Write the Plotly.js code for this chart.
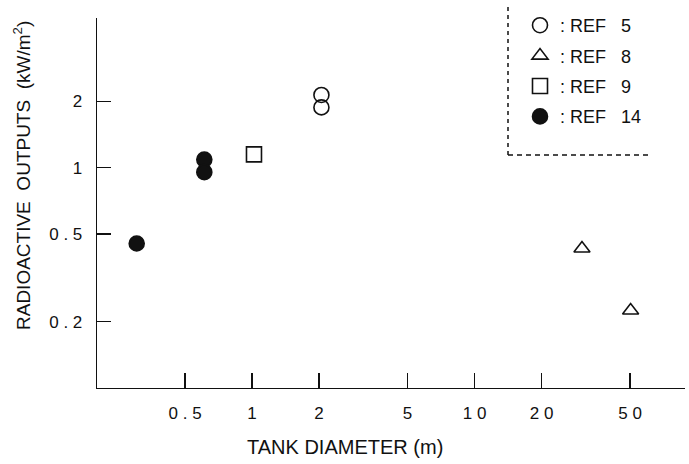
<!DOCTYPE html>
<html><head><meta charset="utf-8">
<script src="https://cdn.plot.ly/plotly-3.0.1.min.js"></script>
<style>html,body{margin:0;padding:0;background:#fff}</style>
</head><body><div id="chart" style="width:689px;height:464px"></div>
<script>
// Data (log-log)
const ref5X = [2.05, 2.05];
const ref5Y = [2.14, 1.88];
const ref8X = [30.4, 50.3];
const ref8Y = [0.43, 0.225];
const ref9X = [1.02];
const ref9Y = [1.15];
const ref14X = [0.61, 0.61, 0.303];
const ref14Y = [1.09, 0.955, 0.453];
const seriesNames = [":\u00a0REF\u00a0\u00a0\u00a05", ":\u00a0REF\u00a0\u00a0\u00a08", ":\u00a0REF\u00a0\u00a0\u00a09", ":\u00a0REF\u00a0\u00a0\u00a014"];
const xTickVals = [0.5, 1, 2, 5, 10, 20, 50];
const xTickText = ["0\u00a0.\u00a05", "1", "2", "5", "1\u00a00", "2\u00a00", "5\u00a00"];
const yTickVals = [0.2, 0.5, 1, 2];
const yTickText = ["0\u00a0.\u00a02", "0\u00a0.\u00a05", "1", "2"];
const xTitle = "TANK DIAMETER (m)";
const yTitle = "RADIOACTIVE\u00a0\u00a0OUTPUTS\u00a0\u00a0(kW/m<sup>2</sup>)";

const FONT = "Liberation Sans, Arial, Helvetica, sans-serif";
const INK = "#111";

function tr(x, y, name, symbol, size, g) {
  return {
    x: x, y: y, name: name, type: "scatter", mode: "markers", legendgroup: g,
    cliponaxis: false,
    marker: {symbol: symbol, size: size, color: INK, line: {color: INK, width: 1.6}}
  };
}

const data = [
  tr(ref5X, ref5Y, seriesNames[0], "circle-open", 15, "a"),
  tr(ref8X, ref8Y, seriesNames[1], "triangle-up-open", 14, "b"),
  tr(ref9X, ref9Y, seriesNames[2], "square-open", 15, "c"),
  tr(ref14X, ref14Y, seriesNames[3], "circle", 15, "d")
];

const axisCommon = {
  type: "log", showgrid: false, zeroline: false, showline: true,
  linecolor: INK, linewidth: 1.3, ticks: "inside", tickwidth: 1.3, tickcolor: INK,
  tickfont: {family: FONT, size: 17, color: INK}, automargin: false, fixedrange: true
};

const layout = {
  width: 689, height: 464,
  margin: {l: 97, r: 4, t: 18, b: 76, autoexpand: false},
  paper_bgcolor: "#fff", plot_bgcolor: "#fff",
  font: {family: FONT, color: INK},
  showlegend: true,
  legend: {
    x: (520 - 97) / 588, y: (388 - 7) / 370,
    xanchor: "left", yanchor: "top",
    font: {family: FONT, size: 18, color: INK},
    bgcolor: "rgba(0,0,0,0)", borderwidth: 0,
    traceorder: "grouped", tracegroupgap: 4
  },
  xaxis: Object.assign({}, axisCommon, {
    range: [-0.697, 1.946],
    tickmode: "array", tickvals: xTickVals, ticktext: xTickText,
    ticklen: 15, ticklabelstandoff: 9
  }),
  yaxis: Object.assign({}, axisCommon, {
    range: [-1.0, 0.68],
    tickmode: "array", tickvals: yTickVals, ticktext: yTickText,
    ticklen: 14, ticklabelstandoff: 10
  }),
  annotations: [
    {text: xTitle, xref: "paper", yref: "paper", x: (245 - 97) / 588, y: (388 - 447) / 370,
     xanchor: "left", yanchor: "middle", showarrow: false,
     font: {family: FONT, size: 20, color: INK}},
    {text: yTitle, xref: "paper", yref: "paper", x: (22 - 97) / 588, y: (388 - 176) / 370,
     xanchor: "center", yanchor: "middle", showarrow: false, textangle: -90,
     font: {family: FONT, size: 19, color: INK}}
  ],
  shapes: [
    {type: "line", xref: "paper", yref: "paper", x0: (508 - 97) / 588, x1: (508 - 97) / 588,
     y0: (388 - 155) / 370, y1: (388 - 3) / 370, line: {color: INK, width: 1.5, dash: "4px,4px"}},
    {type: "line", xref: "paper", yref: "paper", x0: (508 - 97) / 588, x1: (648 - 97) / 588,
     y0: (388 - 155) / 370, y1: (388 - 155) / 370, line: {color: INK, width: 1.5, dash: "5px,4px"}}
  ]
};

Plotly.newPlot("chart", data, layout, {displayModeBar: false, staticPlot: true});
</script>
</body></html>
